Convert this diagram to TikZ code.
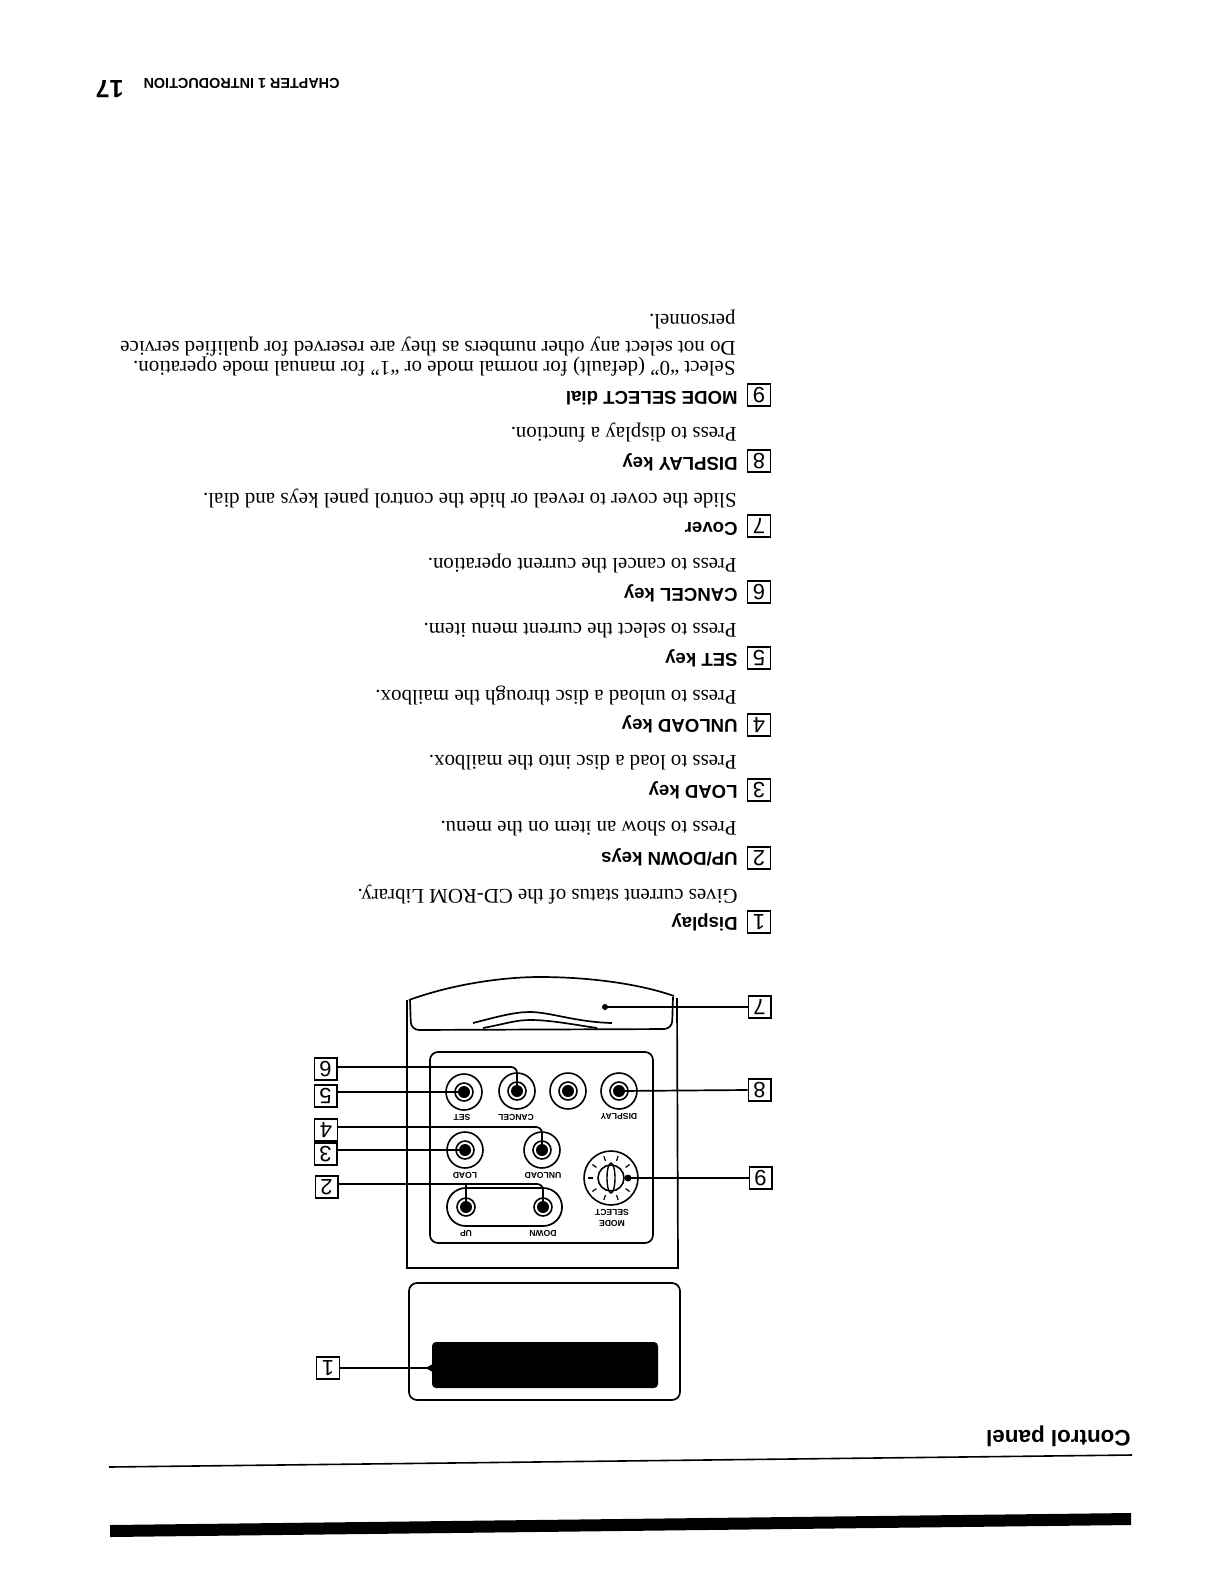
\documentclass[tikz,border=0pt]{standalone}
\usepackage{fontspec}
\setmainfont{Liberation Serif}
\setsansfont{Liberation Sans}
\usetikzlibrary{calc,arrows.meta}
\tikzset{
  body/.style={rotate=180,anchor=base west,inner sep=0pt,font=\fontsize{10.45bp}{12bp}\selectfont},
  head/.style={rotate=180,anchor=base west,inner sep=0pt,font=\sffamily\bfseries\fontsize{9.3bp}{11bp}\selectfont},
  numbox/.style={draw,line width=0.7bp,rotate=180,minimum width=11.3bp,minimum height=11bp,inner sep=0pt,font=\sffamily\fontsize{11bp}{12bp}\selectfont},
  tiny/.style={rotate=180,inner sep=0pt,font=\sffamily\bfseries\fontsize{4.3bp}{5bp}\selectfont},
  btn/.style={draw,circle,line width=0.8bp,minimum size=18bp,inner sep=0pt},
  btnin/.style={draw,circle,line width=0.8bp,minimum size=9bp,inner sep=0pt},
  btnc/.style={circle,fill=black,minimum size=6bp,inner sep=0pt},
  lead/.style={line width=0.85bp,rounded corners=3bp},
  shell/.style={line width=0.85bp},
}
\begin{document}
\begin{tikzpicture}[x=0.5bp,y=-0.5bp]
\useasboundingbox (0,0) rectangle (1224,1584);
% header
\node[rotate=180,anchor=base west,inner sep=0pt,font=\sffamily\bfseries\fontsize{7.2bp}{8bp}\selectfont] (hdr) at (340,78) {CHAPTER 1 INTRODUCTION};
\node[rotate=180,anchor=base west,inner sep=0pt,font=\sffamily\bfseries\fontsize{12.5bp}{14bp}\selectfont] (pg) at (124,80) {17};
% footer rules and title
\node[rotate=180,anchor=base west,inner sep=0pt,font=\sffamily\bfseries\fontsize{11.2bp}{12bp}\selectfont] (title) at (1131,1430) {Control panel};
\draw[line width=0.8bp] (109,1467) -- (1132,1455);
\fill (110,1525) -- (1131,1513) -- (1131,1525) -- (110,1537) -- cycle;
% text rows
\node[head] (t9) at (738,391) {MODE SELECT dial};
\node[body] (b9c) at (736,314) {personnel.};
\node[body] (b9b) at (736,341) {Do not select any other numbers as they are reserved for qualified service};
\node[body] (b9a) at (736,361) {Select ``0'' (default) for normal mode or ``1'' for manual mode operation.};
\node[head] (t8) at (738,457) {DISPLAY key};
\node[body] (b8) at (737,427) {Press to display a function.};
\node[head] (t7) at (738,522) {Cover};
\node[body] (b7) at (737,493) {Slide the cover to reveal or hide the control panel keys and dial.};
\node[head] (t6) at (738,588) {CANCEL key};
\node[body] (b6) at (737,558) {Press to cancel the current operation.};
\node[head] (t5) at (738,653) {SET key};
\node[body] (b5) at (737,623) {Press to select the current menu item.};
\node[head] (t4) at (738,719) {UNLOAD key};
\node[body] (b4) at (737,690) {Press to unload a disc through the mailbox.};
\node[head] (t3) at (738,785) {LOAD key};
\node[body] (b3) at (737,755) {Press to load a disc into the mailbox.};
\node[head] (t2) at (738,852) {UP/DOWN keys};
\node[body] (b2) at (737,821) {Press to show an item on the menu.};
\node[head] (t1) at (738,917) {Display};
\node[body] (b1) at (738,889) {Gives current status of the CD-ROM Library.};
% text number boxes
\foreach \n/\yy in {9/395,8/461,7/526,6/592,5/658,4/725,3/790,2/858,1/922}
  \node[numbox] (r\n) at (759,\yy) {\n};
% housing
\draw[shell] (407,1000) -- (407,1268) -- (678,1268) -- (677,998);
\draw[shell] (409,1000) .. controls (450,985) and (500,977) .. (540,977) .. controls (590,977) and (640,984) .. (674,996);
\draw[shell,rounded corners=4bp] (410,999) -- (411,1030) -- (672,1029) -- (673,997);
\draw[shell] (473,1023) .. controls (500,1016) and (515,1012) .. (530,1012) .. controls (550,1012) and (575,1022) .. (612,1023);
\draw[shell] (483,1028) .. controls (505,1024) and (515,1020) .. (530,1020) .. controls (550,1020) and (570,1024) .. (597,1028);
% panel
\draw[shell,rounded corners=4bp] (430,1052) rectangle (653,1243);
\draw[shell,rounded corners=9.4bp] (447,1188) rectangle (562,1226);
\foreach \nm/\cx/\cy in {set/464/1092,cancel/517/1091,blank/568/1091,display/619/1091,load/465/1150,unload/542/1150}{
  \node[btn] (\nm) at (\cx,\cy) {};
  \node[btnin] (\nm i) at (\cx,\cy) {};
  \node[btnc] (\nm c) at (\cx,\cy) {};
}
\foreach \nm/\cx/\cy in {up/466/1207,down/543/1207}{
  \node[btnin] (\nm i) at (\cx,\cy) {};
  \node[btnc] (\nm) at (\cx,\cy) {};
}
\node[tiny] (lset) at (462,1117) {SET};
\node[tiny] (lcancel) at (516,1117) {CANCEL};
\node[tiny] (ldisplay) at (619,1116) {DISPLAY};
\node[tiny] (lload) at (465,1175) {LOAD};
\node[tiny] (lunload) at (543,1175) {UNLOAD};
\node[tiny] (lup) at (466,1233) {UP};
\node[tiny] (ldown) at (543,1233) {DOWN};
\node[tiny] (lselect) at (612,1212) {SELECT};
\node[tiny] (lmode) at (612,1223) {MODE};
% dial
\node[draw,circle,line width=0.8bp,minimum size=27bp,inner sep=0pt] (dial) at (611,1178) {};
\node[draw,circle,line width=0.8bp,minimum size=13bp,inner sep=0pt] (knob) at (611,1178) {};
\draw[line width=0.7bp] (611,1178) ellipse (4 and 15);
\foreach \a in {0,36,...,324}
  \draw[line width=0.6bp] ($(dial.center)+(\a:18 and 18)$) -- ($(dial.center)+(\a:23 and 23)$);
% display
\draw[shell,rounded corners=4bp] (409,1283) rectangle (680,1400);
\node[fill=black,rounded corners=2bp,minimum width=113bp,minimum height=23bp,inner sep=0pt] (lcd) at (545,1365) {};
% callouts
\node[numbox] (n6) at (325.5,1069) {6};
\node[numbox] (n5) at (325.5,1096) {5};
\node[numbox] (n4) at (326,1130) {4};
\node[numbox] (n3) at (325.5,1154) {3};
\node[numbox] (n2) at (326.5,1187) {2};
\node[numbox] (n1) at (328,1368) {1};
\node[numbox] (n7) at (759.5,1007) {7};
\node[numbox] (n8) at (759.5,1090) {8};
\node[numbox] (n9) at (760.5,1178) {9};
\coordinate (covdot) at (605,1007);
\coordinate (dialdot) at (628,1178);
\coordinate (lcdpt) at (lcd.west |- n1.west);
\fill (covdot) circle (3);
\draw[lead] (n7.east) -- (covdot);
\draw[lead] (n8.east) -- (displayc.center);
\draw[lead] (n9.east) -- (dialdot);
\fill (dialdot) circle (3.5);
\draw[lead] ($(n6.west)+(0,-2)$) -| (cancelc.center);
\draw[lead] (setc.center) -- (setc.center -| n5.west);
\draw[lead] ($(n4.west)+(0,-3)$) -| (unloadc.center);
\draw[lead] (loadc.center) -- (loadc.center -| n3.west);
\draw[lead] ($(n2.west)+(0,-3)$) -| (down.center);
\draw[lead] (up.center) -- ($(up.center |- n2.west)+(0,-3)$);
\draw[lead] (n1.west) -- (lcdpt);
\fill ($(lcdpt)+(-6,0)$) -- ($(lcdpt)+(1,-4)$) -- ($(lcdpt)+(1,4)$) -- cycle;
\end{tikzpicture}
\end{document}
